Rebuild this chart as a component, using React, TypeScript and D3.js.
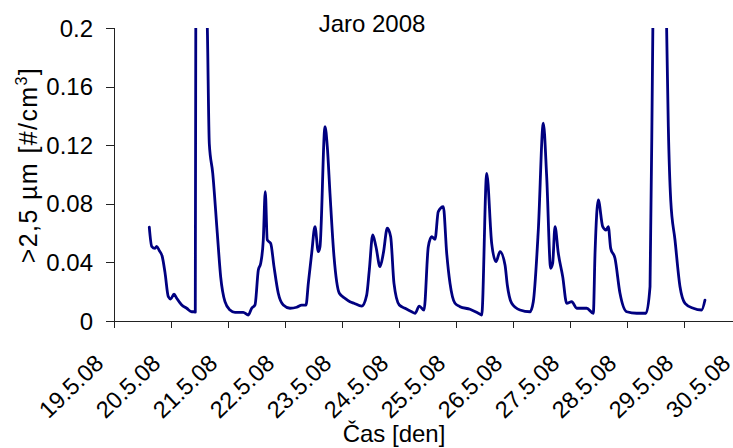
import React, { useEffect, useRef } from "react";
import * as d3 from "d3";

const W = 733;
const H = 448;

// Sampling time as day of May 2008 (fractional day)
const times = [
  19.619, 19.661, 19.719, 19.749, 19.795, 19.847, 19.895, 19.953, 19.995, 20.053,
  20.1, 20.188, 20.275, 20.363, 20.409, 20.426, 20.439, 20.482, 20.544, 20.596,
  20.64, 20.672, 20.732, 20.812, 20.872, 20.947, 21.035, 21.123, 21.268, 21.356,
  21.416, 21.474, 21.532, 21.574, 21.619, 21.654, 21.689, 21.749, 21.807, 21.882,
  21.97, 22.088, 22.205, 22.293, 22.368, 22.409, 22.468, 22.526, 22.584, 22.614,
  22.702, 22.742, 22.789, 22.86, 22.953, 23.053, 23.14, 23.211, 23.346, 23.433,
  23.479, 23.539, 23.596, 23.667, 23.725, 23.795, 23.854, 23.912, 24.005, 24.105,
  24.223, 24.281, 24.356, 24.439, 24.514, 24.574, 24.632, 24.689, 24.777, 24.837,
  24.895, 24.982, 25.07, 25.246, 25.391, 25.451, 25.539, 25.626, 25.702, 25.772,
  25.86, 25.9, 25.977, 26.123, 26.298, 26.356, 26.444, 26.532, 26.591, 26.661,
  26.696, 26.737, 26.795, 26.872, 26.942, 27.03, 27.118, 27.293, 27.409, 27.439,
  27.496, 27.574, 27.632, 27.672, 27.714, 27.789, 27.877, 27.995, 28.17, 28.333,
  28.404, 28.456, 28.509, 28.579, 28.649, 28.693, 28.725, 28.767, 28.842, 28.93,
  29.018, 29.163, 29.309, 29.368,
];

// Particle number concentration >2,5 µm [#/cm3]
const counts = [
  0.064, 0.051, 0.0496, 0.051, 0.048, 0.044, 0.033, 0.0166, 0.015, 0.0184,
  0.0155, 0.011, 0.0087, 0.0063, 0.0063, 0.006, 0.3, 0.42, 0.36, 0.28,
  0.195, 0.121, 0.101, 0.06, 0.03, 0.0132, 0.0075, 0.0059, 0.0059, 0.0041,
  0.0087, 0.011, 0.0348, 0.0394, 0.0553, 0.0883, 0.0553, 0.053, 0.0371, 0.0189,
  0.0109, 0.0087, 0.0094, 0.0109, 0.0109, 0.0257, 0.0462, 0.0644, 0.0473, 0.0507,
  0.1326, 0.119, 0.0872, 0.0439, 0.0189, 0.0155, 0.0132, 0.0121, 0.0102, 0.0177,
  0.0348, 0.0587, 0.0507, 0.0371, 0.0462, 0.0633, 0.0575, 0.0257, 0.0109, 0.0087,
  0.0063, 0.0053, 0.0102, 0.0075, 0.0507, 0.0575, 0.0558, 0.0746, 0.078, 0.0462,
  0.0257, 0.0121, 0.0098, 0.008, 0.0053, 0.0041, 0.1008, 0.053, 0.0405, 0.0473,
  0.0382, 0.0246, 0.0121, 0.0075, 0.0063, 0.0132, 0.0621, 0.135, 0.0985, 0.036,
  0.0394, 0.0644, 0.0462, 0.0303, 0.0121, 0.0132, 0.0087, 0.0087, 0.0053, 0.0462,
  0.0826, 0.0644, 0.0621, 0.0644, 0.0496, 0.0428, 0.0189, 0.0063, 0.0053, 0.0053,
  0.0234, 0.21, 0.31, 0.36, 0.29, 0.205, 0.1326, 0.0826, 0.0553, 0.0234,
  0.0121, 0.0087, 0.0075, 0.0143,
];

const dayTicks = [19, 20, 21, 22, 23, 24, 25, 26, 27, 28, 29, 30];
const dayLabels = [
  "19.5.08", "20.5.08", "21.5.08", "22.5.08", "23.5.08", "24.5.08",
  "25.5.08", "26.5.08", "27.5.08", "28.5.08", "29.5.08", "30.5.08",
];
const yTicks = [0, 0.04, 0.08, 0.12, 0.16, 0.2];
const yTickLabels = ["0", "0.04", "0.08", "0.12", "0.16", "0.2"];

const FONT = "'Liberation Sans', Arial, sans-serif";

export default function App() {
  const ref = useRef<SVGSVGElement>(null);

  useEffect(() => {
    const svg = d3.select(ref.current);
    svg.selectAll("*").remove();

    const left = 114;
    const top = 28;
    const bottom = 321;
    const x = d3.scaleLinear().domain([19, 30]).range([left, 741]);
    const y = d3.scaleLinear().domain([0, 0.2]).range([bottom, top]);

    svg
      .append("defs")
      .append("clipPath")
      .attr("id", "plot-area")
      .append("rect")
      .attr("x", left)
      .attr("y", top)
      .attr("width", 741 - left)
      .attr("height", bottom - top);

    // data line
    const pts = times.map((t, i) => [t, counts[i]] as [number, number]);
    const line = d3
      .line<[number, number]>()
      .x((d) => x(d[0]))
      .y((d) => y(d[1]))
      .curve(d3.curveMonotoneX);
    svg
      .append("path")
      .attr("d", line(pts) as string)
      .attr("clip-path", "url(#plot-area)")
      .attr("fill", "none")
      .attr("stroke", "#000080")
      .attr("stroke-width", 2.8)
      .attr("stroke-linejoin", "round")
      .attr("stroke-linecap", "round");

    // axes
    const axisColor = "#222";
    svg
      .append("line")
      .attr("x1", left + 0.5)
      .attr("x2", left + 0.5)
      .attr("y1", top)
      .attr("y2", bottom + 0.5)
      .attr("stroke", axisColor);
    svg
      .append("line")
      .attr("x1", left)
      .attr("x2", 741)
      .attr("y1", bottom + 0.5)
      .attr("y2", bottom + 0.5)
      .attr("stroke", axisColor);

    const yg = svg.append("g");
    yTicks.forEach((v, i) => {
      const py = Math.round(y(v)) + 0.5;
      yg.append("line")
        .attr("x1", left - 8)
        .attr("x2", left)
        .attr("y1", py)
        .attr("y2", py)
        .attr("stroke", axisColor);
      yg.append("text")
        .attr("x", 93)
        .attr("y", y(v) + 8.5)
        .attr("text-anchor", "end")
        .attr("font-family", FONT)
        .attr("font-size", 24)
        .attr("fill", "#000")
        .text(yTickLabels[i]);
    });

    const xg = svg.append("g");
    dayTicks.forEach((d, i) => {
      const px = Math.round(x(d)) + 0.5;
      xg.append("line")
        .attr("x1", px)
        .attr("x2", px)
        .attr("y1", bottom)
        .attr("y2", bottom + 7)
        .attr("stroke", axisColor);
      xg.append("text")
        .attr("transform", `translate(${x(d) - 9},${bottom + 44}) rotate(-44)`)
        .attr("text-anchor", "end")
        .attr("font-family", FONT)
        .attr("font-size", 23.5)
        .attr("fill", "#000")
        .text(dayLabels[i]);
    });

    // titles
    svg
      .append("text")
      .attr("x", 372)
      .attr("y", 32)
      .attr("text-anchor", "middle")
      .attr("font-family", FONT)
      .attr("font-size", 24)
      .text("Jaro 2008");

    svg
      .append("text")
      .attr("x", 394)
      .attr("y", 442)
      .attr("text-anchor", "middle")
      .attr("font-family", FONT)
      .attr("font-size", 24)
      .text("Čas [den]");

    const yt = svg
      .append("text")
      .attr("transform", `translate(37,165) rotate(-90)`)
      .attr("text-anchor", "middle")
      .attr("font-family", FONT)
      .attr("font-size", 25)
      .attr("letter-spacing", 1.4);
    yt.append("tspan").text(">2,5 µm [#/cm");
    yt.append("tspan").attr("font-size", 16).attr("dy", -10).text("3");
    yt.append("tspan").attr("dy", 10).text("]");
  }, []);

  return (
    <svg
      ref={ref}
      width={W}
      height={H}
      style={{ position: "absolute", left: 0, top: 0, background: "#fff" }}
    />
  );
}
